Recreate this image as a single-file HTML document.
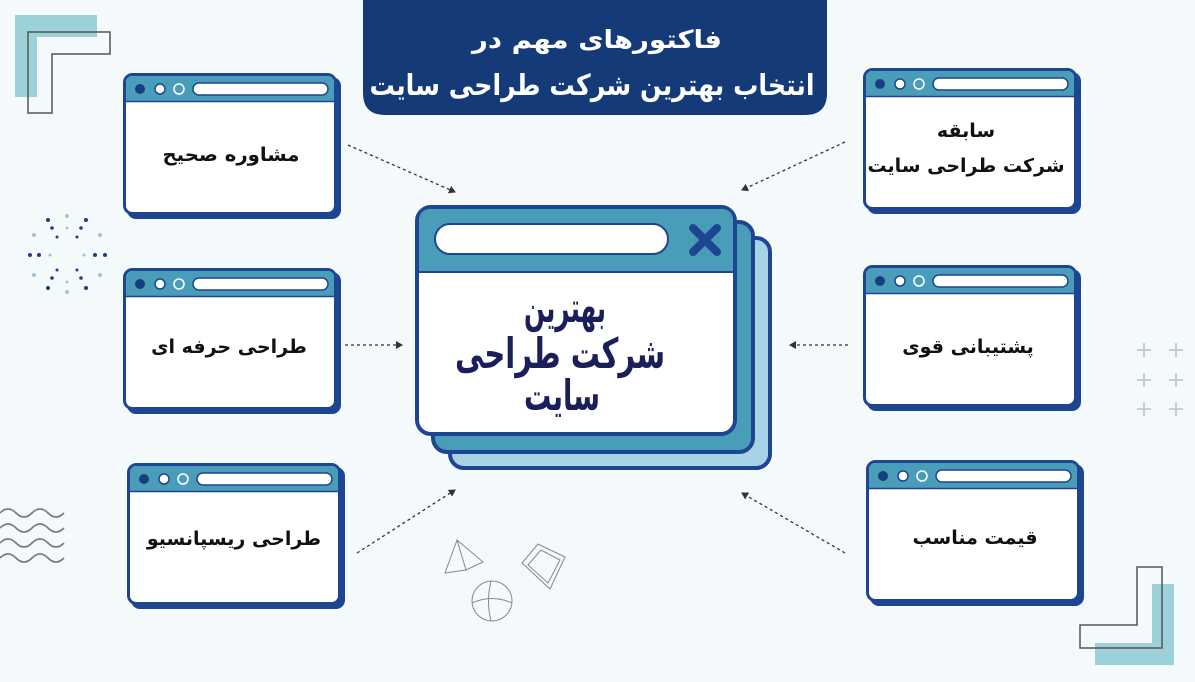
<!DOCTYPE html>
<html><head><meta charset="utf-8"><style>
html,body{margin:0;padding:0;background:#f4f9fc;}
svg{display:block}
text{font-family:"DejaVu Sans","Liberation Sans",sans-serif;}
</style></head><body>
<svg width="1195" height="682" viewBox="0 0 1195 682" xmlns="http://www.w3.org/2000/svg">
<defs>
<marker id="ah" markerWidth="8" markerHeight="8" refX="6" refY="4" orient="auto" markerUnits="userSpaceOnUse">
<path d="M0,0 L7,4 L0,8 Z" fill="#333"/>
</marker>
<g id="win">
<rect x="4" y="4" width="214" height="142" rx="9" fill="#1e4591"/>
<rect x="1.5" y="1.5" width="211" height="139" rx="8" fill="#fff" stroke="#1e4591" stroke-width="3"/>
<path d="M3,28 L3,10 Q3,3 10,3 L204,3 Q211,3 211,10 L211,28 Z" fill="#4a9db8"/>
<line x1="3" y1="28.5" x2="211" y2="28.5" stroke="#1e4591" stroke-width="1.5"/>
<circle cx="17" cy="16" r="5" fill="#163f80"/>
<circle cx="37" cy="16" r="5" fill="#fff" stroke="#1e4591" stroke-width="1.5"/>
<circle cx="56" cy="16" r="5" fill="#4a9db8" stroke="#fff" stroke-width="1.5"/>
<rect x="70" y="10" width="135" height="12" rx="6" fill="#fff" stroke="#1e4591" stroke-width="1.5"/>
</g>
</defs>

<path d="M15,15 H97 V37 H37 V97 H15 Z" fill="#8ccad3" opacity="0.85"/>
<path d="M28,32 H110 V54 H52 V113 H28 Z" fill="none" stroke="#555" stroke-width="1.5"/>
<path d="M1152,584 H1174 V665 H1095 V643 H1152 Z" fill="#8ccad3" opacity="0.85"/>
<path d="M1137,567 H1162 V648 H1080 V625 H1137 Z" fill="none" stroke="#555" stroke-width="1.5"/>
<g stroke="#b5c3c0" stroke-width="1.5">
<path d="M1137,350h14M1144,343v14M1169,350h14M1176,343v14M1137,380h14M1144,373v14M1169,380h14M1176,373v14M1137,409h14M1144,402v14M1169,409h14M1176,402v14"/>
</g>
<g fill="none" stroke="#777" stroke-width="1.6">
<path d="M0,513 q8,-8 16,0 t16,0 t16,0 t16,0"/>
<path d="M0,528 q8,-8 16,0 t16,0 t16,0 t16,0"/>
<path d="M0,543 q8,-8 16,0 t16,0 t16,0 t16,0"/>
<path d="M0,558 q8,-8 16,0 t16,0 t16,0 t16,0"/>
</g>
<g fill="#1e3f80">
<circle cx="48" cy="220" r="2"/><circle cx="86" cy="220" r="2"/><circle cx="52" cy="228" r="1.8"/><circle cx="81" cy="228" r="1.8"/>
<circle cx="30" cy="255" r="2"/><circle cx="39" cy="255" r="2"/><circle cx="105" cy="255" r="2"/><circle cx="95" cy="255" r="2"/>
<circle cx="48" cy="288" r="2"/><circle cx="86" cy="288" r="2"/><circle cx="52" cy="278" r="1.8"/><circle cx="81" cy="278" r="1.8"/>
<circle cx="57" cy="237" r="1.5"/><circle cx="77" cy="237" r="1.5"/><circle cx="57" cy="270" r="1.5"/><circle cx="77" cy="270" r="1.5"/>
</g>
<g fill="#a8c4cc">
<circle cx="67" cy="216" r="2"/><circle cx="67" cy="292" r="2"/><circle cx="34" cy="235" r="2"/><circle cx="100" cy="235" r="2"/><circle cx="34" cy="275" r="2"/><circle cx="100" cy="275" r="2"/><circle cx="67" cy="228" r="1.5"/><circle cx="67" cy="282" r="1.5"/><circle cx="50" cy="255" r="1.5"/><circle cx="84" cy="255" r="1.5"/>
</g>
<g fill="none" stroke="#888" stroke-width="1">
<path d="M457,540 L445,573 L466,570 L483,562 Z M457,540 L466,570"/>
<path d="M522,563 L538,544 L565,557 L550,589 Z M528,565 L541,550 L560,560 L548,583 Z"/>
<circle cx="492" cy="601" r="20"/><path d="M472,603 Q492,594 512,603 M491,581 Q486,601 491,621"/>
</g>

<path d="M363,0 H827 V93 Q827,115 805,115 H385 Q363,115 363,93 Z" fill="#143a78"/>
<text x="597" y="48" text-anchor="middle" font-size="25" font-weight="bold" fill="#fff" textLength="250" lengthAdjust="spacingAndGlyphs">فاکتورهای مهم در</text>
<text x="592" y="95" text-anchor="middle" font-size="29" font-weight="bold" fill="#fff" textLength="445" lengthAdjust="spacingAndGlyphs">انتخاب بهترین شرکت طراحی سایت</text>

<rect x="450" y="238" width="320" height="230" rx="14" fill="#a6d4e6" stroke="#1e4591" stroke-width="4"/>
<rect x="433" y="222" width="320" height="230" rx="14" fill="#4a9db8" stroke="#1e4591" stroke-width="4"/>
<rect x="417" y="207" width="318" height="227" rx="14" fill="#fff" stroke="#1e4591" stroke-width="4"/>
<path d="M419,272 V221 Q419,209 431,209 H721 Q733,209 733,221 V272 Z" fill="#4a9db8"/>
<line x1="419" y1="272" x2="733" y2="272" stroke="#1e4591" stroke-width="2"/>
<rect x="435" y="224" width="233" height="30" rx="15" fill="#fff" stroke="#1e4591" stroke-width="2"/>
<path d="M693,228 L717,252 M717,228 L693,252" stroke="#1e4591" stroke-width="8" stroke-linecap="round"/>
<g font-size="42" font-weight="bold" fill="#1a1f5a" text-anchor="middle">
<text x="565" y="322" textLength="82" lengthAdjust="spacingAndGlyphs">بهترین</text>
<text x="560" y="368" textLength="210" lengthAdjust="spacingAndGlyphs">شرکت طراحی</text>
<text x="562" y="410" textLength="76" lengthAdjust="spacingAndGlyphs">سایت</text>
</g>

<use href="#win" x="123" y="73"/>
<use href="#win" x="123" y="268"/>
<use href="#win" x="127" y="463"/>
<use href="#win" x="863" y="68"/>
<use href="#win" x="863" y="265"/>
<use href="#win" x="866" y="460"/>
<g font-size="19" font-weight="bold" fill="#111" text-anchor="middle">
<text x="231" y="161" textLength="137" lengthAdjust="spacingAndGlyphs">مشاوره صحیح</text>
<text x="229" y="353">طراحی حرفه ای</text>
<text x="234" y="545">طراحی ریسپانسیو</text>
<text x="966" y="137">سابقه</text>
<text x="966" y="172">شرکت طراحی سایت</text>
<text x="968" y="353">پشتیبانی قوی</text>
<text x="975" y="544">قیمت مناسب</text>
</g>

<g stroke="#333" stroke-width="1.3" stroke-dasharray="3,3" fill="none" marker-end="url(#ah)">
<line x1="348" y1="145" x2="455" y2="192"/>
<line x1="345" y1="345" x2="402" y2="345"/>
<line x1="357" y1="553" x2="455" y2="490"/>
<line x1="845" y1="142" x2="742" y2="190"/>
<line x1="848" y1="345" x2="790" y2="345"/>
<line x1="845" y1="553" x2="742" y2="493"/>
</g>
</svg>
</body></html>
